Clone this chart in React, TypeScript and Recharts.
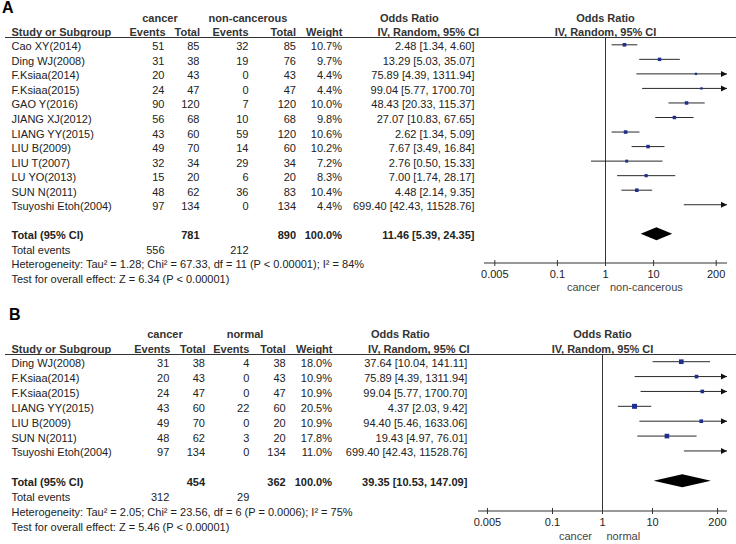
import React from "react";
import { ScatterChart, Scatter, XAxis, YAxis, ReferenceLine } from "recharts";

// ---------------- DATA ----------------
const studiesA = [
  "Cao XY(2014)", "Ding WJ(2008)", "F.Ksiaa(2014)", "F.Ksiaa(2015)", "GAO Y(2016)", "JIANG XJ(2012)",
  "LIANG YY(2015)", "LIU B(2009)", "LIU T(2007)", "LU YO(2013)", "SUN N(2011)", "Tsuyoshi Etoh(2004)",
];
const cancerEventsA = [51, 31, 20, 24, 90, 56, 43, 49, 32, 15, 48, 97];
const cancerTotalA = [85, 38, 43, 47, 120, 68, 60, 70, 34, 20, 62, 134];
const controlEventsA = [32, 19, 0, 0, 7, 10, 59, 14, 29, 6, 36, 0];
const controlTotalA = [85, 76, 43, 47, 120, 68, 120, 60, 34, 20, 83, 134];
const weightA = [10.7, 9.7, 4.4, 4.4, 10.0, 9.8, 10.6, 10.2, 7.2, 8.3, 10.4, 4.4];
const orA = [2.48, 13.29, 75.89, 99.04, 48.43, 27.07, 2.62, 7.67, 2.76, 7.0, 4.48, 699.4];
const lowA = [1.34, 5.03, 4.39, 5.77, 20.33, 10.83, 1.34, 3.49, 0.5, 1.74, 2.14, 42.43];
const highA = [4.6, 35.07, 1311.94, 1700.7, 115.37, 67.65, 5.09, 16.84, 15.33, 28.17, 9.35, 11528.76];
const summaryA = [11.46, 5.39, 24.35];
const totalsA = ["781", "890", "100.0%"];
const totalEventsA = ["556", "212"];
const hetA = "Heterogeneity: Tau\u00b2 = 1.28; Chi\u00b2 = 67.33, df = 11 (P < 0.00001); I\u00b2 = 84%";
const testA = "Test for overall effect: Z = 6.34 (P < 0.00001)";
const groupsA = ["cancer", "non-cancerous"];

const studiesB = [
  "Ding WJ(2008)", "F.Ksiaa(2014)", "F.Ksiaa(2015)", "LIANG YY(2015)", "LIU B(2009)", "SUN N(2011)", "Tsuyoshi Etoh(2004)",
];
const cancerEventsB = [31, 20, 24, 43, 49, 48, 97];
const cancerTotalB = [38, 43, 47, 60, 70, 62, 134];
const controlEventsB = [4, 0, 0, 22, 0, 3, 0];
const controlTotalB = [38, 43, 47, 60, 20, 20, 134];
const weightB = [18.0, 10.9, 10.9, 20.5, 10.9, 17.8, 11.0];
const orB = [37.64, 75.89, 99.04, 4.37, 94.4, 19.43, 699.4];
const lowB = [10.04, 4.39, 5.77, 2.03, 5.46, 4.97, 42.43];
const highB = [141.11, 1311.94, 1700.7, 9.42, 1633.06, 76.01, 11528.76];
const summaryB = [39.35, 10.53, 147.09];
const totalsB = ["454", "362", "100.0%"];
const totalEventsB = ["312", "29"];
const hetB = "Heterogeneity: Tau\u00b2 = 2.05; Chi\u00b2 = 23.56, df = 6 (P = 0.0006); I\u00b2 = 75%";
const testB = "Test for overall effect: Z = 5.46 (P < 0.00001)";
const groupsB = ["cancer", "normal"];

const axisTicks = [0.005, 0.1, 1, 10, 200];

// ---------------- STYLE / LAYOUT ----------------
const W = 736;
const H = 544;
const FONT = "'Liberation Sans', Arial, Helvetica, sans-serif";
const TEXT = "#222";
const HEAD = "#333";
const LINE = "#333";
const MARK = "#1F2F8F";

type Align = "left" | "right" | "center";

function Txt(props: { x: number; y: number; children: React.ReactNode; align?: Align; bold?: boolean; color?: string; size?: number }) {
  const { x, y, children, align = "left", bold = false, color = TEXT, size = 11 } = props;
  const lh = 14;
  const style: React.CSSProperties = {
    position: "absolute",
    top: y - lh / 2,
    height: lh,
    lineHeight: lh + "px",
    fontSize: size,
    fontWeight: bold ? 700 : 400,
    color,
    whiteSpace: "nowrap",
    fontFamily: FONT,
  };
  if (align === "left") style.left = x;
  else if (align === "right") style.right = W - x;
  else {
    style.left = x - 150;
    style.width = 300;
    style.textAlign = "center";
  }
  return <div style={style}>{children}</div>;
}

const fmtCI = (o: number, l: number, h: number) => `${o.toFixed(2)} [${l.toFixed(2)}, ${h.toFixed(2)}]`;

type Layout = {
  letter: string;
  letterX: number;
  letterY: number;
  head1Y: number;
  head2Y: number;
  lineY: number;
  rowY0: number;
  rowH: number;
  totalIndex: number;
  colCE: number;
  colCT: number;
  colNE: number;
  colNT: number;
  colW: number;
  colOR: number;
  orHeadX: number;
  ivHeadX: number;
  grp1X: number;
  grp2X: number;
  plotLeft: number;
  plotRight: number;
  plotTop: number;
  plotBottom: number;
  decades: number;
  footY: number;
  footLeftRight: number;
  footRightLeft: number;
};

const layoutA: Layout = {
  letter: "A", letterX: 2, letterY: 8,
  head1Y: 17.5, head2Y: 31.7, lineY: 37,
  rowY0: 44.8, rowH: 14.54, totalIndex: 13,
  colCE: 164.5, colCT: 199.5, colNE: 248.5, colNT: 296, colW: 342, colOR: 474.5,
  orHeadX: 380, ivHeadX: 377.5, grp1X: 160, grp2X: 248,
  plotLeft: 484, plotRight: 727, plotTop: 37, plotBottom: 263, decades: 2.526,
  footY: 286.5, footLeftRight: 600, footRightLeft: 610,
};

const layoutB: Layout = {
  letter: "B", letterX: 9, letterY: 315,
  head1Y: 334, head2Y: 349, lineY: 354,
  rowY0: 361.7, rowH: 14.875, totalIndex: 8,
  colCE: 169.3, colCT: 205, colNE: 249.3, colNT: 285.7, colW: 332, colOR: 467.3,
  orHeadX: 371, ivHeadX: 368, grp1X: 165, grp2X: 245,
  plotLeft: 478, plotRight: 727, plotTop: 354, plotBottom: 511, decades: 2.49,
  footY: 536, footLeftRight: 592, footRightLeft: 606.5,
};

type PanelData = {
  studies: string[];
  ce: number[];
  ct: number[];
  ne: number[];
  nt: number[];
  w: number[];
  or: number[];
  lo: number[];
  hi: number[];
  summary: number[];
  totals: string[];
  totalEvents: string[];
  het: string;
  test: string;
  groups: string[];
};

const dataA: PanelData = {
  studies: studiesA, ce: cancerEventsA, ct: cancerTotalA, ne: controlEventsA, nt: controlTotalA, w: weightA,
  or: orA, lo: lowA, hi: highA, summary: summaryA, totals: totalsA, totalEvents: totalEventsA, het: hetA, test: testA, groups: groupsA,
};
const dataB: PanelData = {
  studies: studiesB, ce: cancerEventsB, ct: cancerTotalB, ne: controlEventsB, nt: controlTotalB, w: weightB,
  or: orB, lo: lowB, hi: highB, summary: summaryB, totals: totalsB, totalEvents: totalEventsB, het: hetB, test: testB, groups: groupsB,
};

// ---------------- TABLE ----------------
function Table({ L, D }: { L: Layout; D: PanelData }) {
  const rowText = (i: number) => L.rowY0 + i * L.rowH + 1.5;
  const tY = rowText(L.totalIndex);
  const els: React.ReactNode[] = [];
  els.push(<Txt key="letter" x={L.letterX} y={L.letterY} bold size={16} color="#000">{L.letter}</Txt>);
  // headers
  els.push(<Txt key="g1" x={L.grp1X} y={L.head1Y} align="center" bold color={HEAD}>{D.groups[0]}</Txt>);
  els.push(<Txt key="g2" x={L.grp2X} y={L.head1Y} align="center" bold color={HEAD}>{D.groups[1]}</Txt>);
  els.push(<Txt key="or1" x={L.orHeadX} y={L.head1Y} bold color={HEAD}>Odds Ratio</Txt>);
  els.push(<Txt key="or2" x={(L.plotLeft + L.plotRight) / 2} y={L.head1Y} align="center" bold color={HEAD}>Odds Ratio</Txt>);
  els.push(<Txt key="h-s" x={11.5} y={L.head2Y} bold color={HEAD}>Study or Subgroup</Txt>);
  els.push(<Txt key="h-ce" x={L.colCE + 1} y={L.head2Y} align="right" bold color={HEAD}>Events</Txt>);
  els.push(<Txt key="h-ct" x={L.colCT + 0.5} y={L.head2Y} align="right" bold color={HEAD}>Total</Txt>);
  els.push(<Txt key="h-ne" x={L.colNE} y={L.head2Y} align="right" bold color={HEAD}>Events</Txt>);
  els.push(<Txt key="h-nt" x={L.colNT} y={L.head2Y} align="right" bold color={HEAD}>Total</Txt>);
  els.push(<Txt key="h-w" x={L.colW + 0.5} y={L.head2Y} align="right" bold color={HEAD}>Weight</Txt>);
  els.push(<Txt key="h-iv" x={L.ivHeadX} y={L.head2Y} bold color={HEAD}>IV, Random, 95% CI</Txt>);
  els.push(<Txt key="h-iv2" x={(L.plotLeft + L.plotRight) / 2} y={L.head2Y} align="center" bold color={HEAD}>IV, Random, 95% CI</Txt>);
  els.push(
    <div key="hline" style={{ position: "absolute", left: 5, top: L.lineY - 0.5, width: W - 5, height: 1, background: LINE }} />
  );
  D.studies.forEach((s, i) => {
    const y = rowText(i);
    els.push(<Txt key={"s" + i} x={11.5} y={y}>{s}</Txt>);
    els.push(<Txt key={"ce" + i} x={L.colCE} y={y} align="right">{D.ce[i]}</Txt>);
    els.push(<Txt key={"ct" + i} x={L.colCT} y={y} align="right">{D.ct[i]}</Txt>);
    els.push(<Txt key={"ne" + i} x={L.colNE} y={y} align="right">{D.ne[i]}</Txt>);
    els.push(<Txt key={"nt" + i} x={L.colNT} y={y} align="right">{D.nt[i]}</Txt>);
    els.push(<Txt key={"w" + i} x={L.colW} y={y} align="right">{D.w[i].toFixed(1) + "%"}</Txt>);
    els.push(<Txt key={"or" + i} x={L.colOR} y={y} align="right">{fmtCI(D.or[i], D.lo[i], D.hi[i])}</Txt>);
  });
  els.push(<Txt key="tt" x={11.5} y={tY} bold>Total (95% CI)</Txt>);
  els.push(<Txt key="tct" x={L.colCT} y={tY} align="right" bold>{D.totals[0]}</Txt>);
  els.push(<Txt key="tnt" x={L.colNT} y={tY} align="right" bold>{D.totals[1]}</Txt>);
  els.push(<Txt key="tw" x={L.colW} y={tY} align="right" bold>{D.totals[2]}</Txt>);
  els.push(<Txt key="tor" x={L.colOR} y={tY} align="right" bold>{fmtCI(D.summary[0], D.summary[1], D.summary[2])}</Txt>);
  els.push(<Txt key="te" x={11.5} y={tY + L.rowH}>Total events</Txt>);
  els.push(<Txt key="te1" x={L.colCE} y={tY + L.rowH} align="right">{D.totalEvents[0]}</Txt>);
  els.push(<Txt key="te2" x={L.colNE} y={tY + L.rowH} align="right">{D.totalEvents[1]}</Txt>);
  els.push(<Txt key="het" x={11.5} y={tY + 2 * L.rowH}>{D.het}</Txt>);
  els.push(<Txt key="test" x={11.5} y={tY + 3 * L.rowH}>{D.test}</Txt>);
  els.push(<Txt key="f1" x={L.footLeftRight} y={L.footY} align="right" color="#444">{D.groups[0]}</Txt>);
  els.push(<Txt key="f2" x={L.footRightLeft} y={L.footY} color="#444">{D.groups[1]}</Txt>);
  return <>{els}</>;
}

// ---------------- FOREST ----------------
const AxisTick = (props: any) => {
  const { x, y, payload } = props;
  return (
    <g>
      <line x1={x} x2={x} y1={y - 3} y2={y + 3} stroke={LINE} strokeWidth={1} />
      <text x={x} y={y + 11} textAnchor="middle" dominantBaseline="central" fontFamily={FONT} fontSize={11} fill={TEXT}>
        {String(payload.value)}
      </text>
    </g>
  );
};

const ciShape = (arrowLeft: boolean, arrowRight: boolean) => (p: any) => {
  const { x1, y1, x2, y2 } = p;
  return (
    <g>
      <line x1={x1} y1={y1} x2={x2} y2={y2} stroke="#2a2a2a" strokeWidth={1} />
      {arrowRight && <polygon points={`${x2},${y2} ${x2 - 6},${y2 - 3} ${x2 - 6},${y2 + 3}`} fill="#111" />}
      {arrowLeft && <polygon points={`${x1},${y1} ${x1 + 6},${y1 - 3} ${x1 + 6},${y1 + 3}`} fill="#111" />}
    </g>
  );
};

const diamondShape = (p: any) => {
  const { x1, y1, x2 } = p;
  const m = (x1 + x2) / 2;
  const hh = 6.5;
  return <polygon points={`${x1},${y1} ${m},${y1 - hh} ${x2},${y1} ${m},${y1 + hh}`} fill="#000" />;
};

function Forest({ L, D }: { L: Layout; D: PanelData }) {
  const left = L.plotLeft - 24;
  const top = L.plotTop - 2;
  const axisH = 30;
  const width = W - left;
  const height = L.plotBottom - top + axisH;
  const margin = { left: L.plotLeft - left, right: left + width - L.plotRight, top: L.plotTop - top, bottom: 0 };
  const dMin = Math.pow(10, -L.decades);
  const dMax = Math.pow(10, L.decades);
  const y0 = -(L.rowY0 - L.plotTop) / L.rowH;
  const y1 = (L.plotBottom - L.rowY0) / L.rowH;
  const points = D.or
    .map((v, i) => ({ x: v, y: i, w: D.w[i] }))
    .filter((p) => p.x >= dMin && p.x <= dMax);

  return (
    <div style={{ position: "absolute", left, top, width, height }}>
      <ScatterChart width={width} height={height} margin={margin}>
        <XAxis
          type="number"
          dataKey="x"
          scale="log"
          domain={[dMin, dMax]}
          allowDataOverflow
          ticks={axisTicks}
          interval={0}
          tickSize={0}
          tickMargin={0}
          tickLine={false}
          height={axisH}
          stroke={LINE}
          tick={<AxisTick />}
        />
        <YAxis type="number" dataKey="y" domain={[y0, y1]} reversed hide allowDataOverflow />
        <ReferenceLine x={1} stroke={LINE} strokeWidth={1} ifOverflow="visible" />
        {D.or.map((v, i) => {
          const lo = Math.max(D.lo[i], dMin);
          const hi = Math.min(D.hi[i], dMax);
          return (
            <ReferenceLine
              key={"ci" + i}
              segment={[{ x: lo, y: i }, { x: hi, y: i }]}
              ifOverflow="visible"
              shape={ciShape(D.lo[i] < dMin, D.hi[i] > dMax)}
            />
          );
        })}
        <ReferenceLine
          segment={[{ x: D.summary[1], y: L.totalIndex }, { x: D.summary[2], y: L.totalIndex }]}
          ifOverflow="visible"
          shape={diamondShape}
        />
        <Scatter
          data={points}
          isAnimationActive={false}
          shape={(p: any) => {
            const s = 1.1 * Math.sqrt(p.payload.w);
            return <rect x={p.cx - s / 2} y={p.cy - s / 2} width={s} height={s} fill={MARK} />;
          }}
        />
      </ScatterChart>
    </div>
  );
}

export default function App() {
  return (
    <div style={{ position: "absolute", left: 0, top: 0, width: W, height: H, background: "#fff", overflow: "hidden", fontFamily: FONT }}>
      <Forest L={layoutA} D={dataA} />
      <Forest L={layoutB} D={dataB} />
      <Table L={layoutA} D={dataA} />
      <Table L={layoutB} D={dataB} />
    </div>
  );
}
